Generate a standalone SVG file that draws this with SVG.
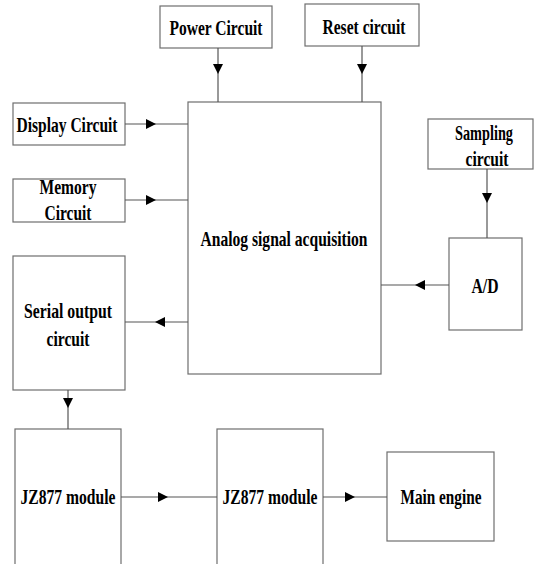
<svg xmlns="http://www.w3.org/2000/svg" width="536" height="564" viewBox="0 0 536 564">
<style>
.box{fill:#fff;stroke:#6e6e6e;stroke-width:1.2}
.t{font-family:"Liberation Serif","Times New Roman",serif;font-weight:bold;font-size:22px;fill:#000;text-anchor:middle}
.c{fill:none;stroke:#555;stroke-width:1.2;marker-mid:url(#ah)}
</style>
<defs>
<marker id="ah" viewBox="0 0 10 10" refX="10" refY="5" markerWidth="12" markerHeight="10" markerUnits="userSpaceOnUse" orient="auto">
<path d="M0,0 L10,5 L0,10 z" fill="#000"/>
</marker>
</defs>
<rect width="536" height="564" fill="#fff"/>
<g id="power"><rect class="box" x="160" y="6" width="112" height="42"/><text class="t" x="216" y="35" textLength="93" lengthAdjust="spacingAndGlyphs">Power Circuit</text></g>
<g id="reset"><rect class="box" x="305" y="4" width="114" height="42"/><text class="t" x="364" y="34" textLength="83" lengthAdjust="spacingAndGlyphs">Reset circuit</text></g>
<g id="display"><rect class="box" x="13" y="103" width="112" height="42"/><text class="t" x="67" y="132" textLength="101" lengthAdjust="spacingAndGlyphs">Display Circuit</text></g>
<g id="memory"><rect class="box" x="13" y="179" width="112" height="43"/><text class="t" x="68" y="194" textLength="57" lengthAdjust="spacingAndGlyphs">Memory</text><text class="t" x="68" y="220" textLength="47" lengthAdjust="spacingAndGlyphs">Circuit</text></g>
<g id="analog"><rect class="box" x="188" y="102" width="193" height="272"/><text class="t" x="284" y="246" textLength="167" lengthAdjust="spacingAndGlyphs">Analog signal acquisition</text></g>
<g id="sampling"><rect class="box" x="428" y="119" width="105" height="50"/><text class="t" x="484" y="140" textLength="58" lengthAdjust="spacingAndGlyphs">Sampling</text><text class="t" x="487" y="166" textLength="43" lengthAdjust="spacingAndGlyphs">circuit</text></g>
<g id="ad"><rect class="box" x="449" y="238" width="73" height="92"/><text class="t" x="485" y="293" textLength="27" lengthAdjust="spacingAndGlyphs">A/D</text></g>
<g id="serial"><rect class="box" x="13" y="256" width="112" height="134"/><text class="t" x="68" y="318" textLength="88" lengthAdjust="spacingAndGlyphs">Serial output</text><text class="t" x="68" y="346" textLength="43" lengthAdjust="spacingAndGlyphs">circuit</text></g>
<g id="jz1"><rect class="box" x="15" y="429" width="106" height="145"/><text class="t" x="68" y="504" textLength="95" lengthAdjust="spacingAndGlyphs">JZ877 module</text></g>
<g id="jz2"><rect class="box" x="217" y="429" width="106" height="145"/><text class="t" x="270" y="504" textLength="95" lengthAdjust="spacingAndGlyphs">JZ877 module</text></g>
<g id="engine"><rect class="box" x="387" y="452" width="107" height="89"/><text class="t" x="441" y="504" textLength="81" lengthAdjust="spacingAndGlyphs">Main engine</text></g>
<g id="connectors">
<path class="c" d="M218 48 L218 74 L218 102"/>
<path class="c" d="M362 46 L362 74 L362 102"/>
<path class="c" d="M125 124 L156 124 L188 124"/>
<path class="c" d="M125 200 L156 200 L188 200"/>
<path class="c" d="M487 169 L487 203 L487 238"/>
<path class="c" d="M449 285 L415 285 L381 285"/>
<path class="c" d="M188 322 L155 322 L125 322"/>
<path class="c" d="M68 390 L68 408 L68 429"/>
<path class="c" d="M121 497 L168 497 L217 497"/>
<path class="c" d="M323 497 L355 497 L387 497"/>
</g>
</svg>
